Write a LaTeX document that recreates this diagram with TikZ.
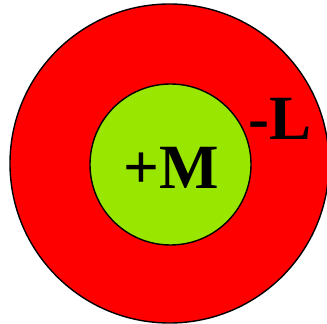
\documentclass[tikz,border=0pt]{standalone}
\usepackage{fontspec}
\setmainfont{Liberation Serif}
\definecolor{outerred}{RGB}{255,0,0}
\definecolor{innergreen}{RGB}{153,230,0}
\begin{document}
\begin{tikzpicture}[x=1pt,y=1pt,
  ring/.style={draw=black,line width=1.4pt},
  bigtext/.style={font=\fontsize{63}{70}\selectfont\bfseries,inner sep=0pt,anchor=base}]
\useasboundingbox (0,0) rectangle (327,324);
\fill[white] (0,0) rectangle (327,324);
\begin{scope}
\clip (0,0) rectangle (327,324);
\node[ring,fill=outerred,circle,minimum size=319pt,inner sep=0pt] (outer) at (169.5,160.5) {};
\end{scope}
\node[ring,fill=innergreen,circle,minimum size=161pt,inner sep=0pt] (inner) at (170.5,159.5) {};
\node[bigtext] (m) at (171,135.3) {+M};
\node[bigtext] (l) at (280,184) {-L};
\end{tikzpicture}
\end{document}
